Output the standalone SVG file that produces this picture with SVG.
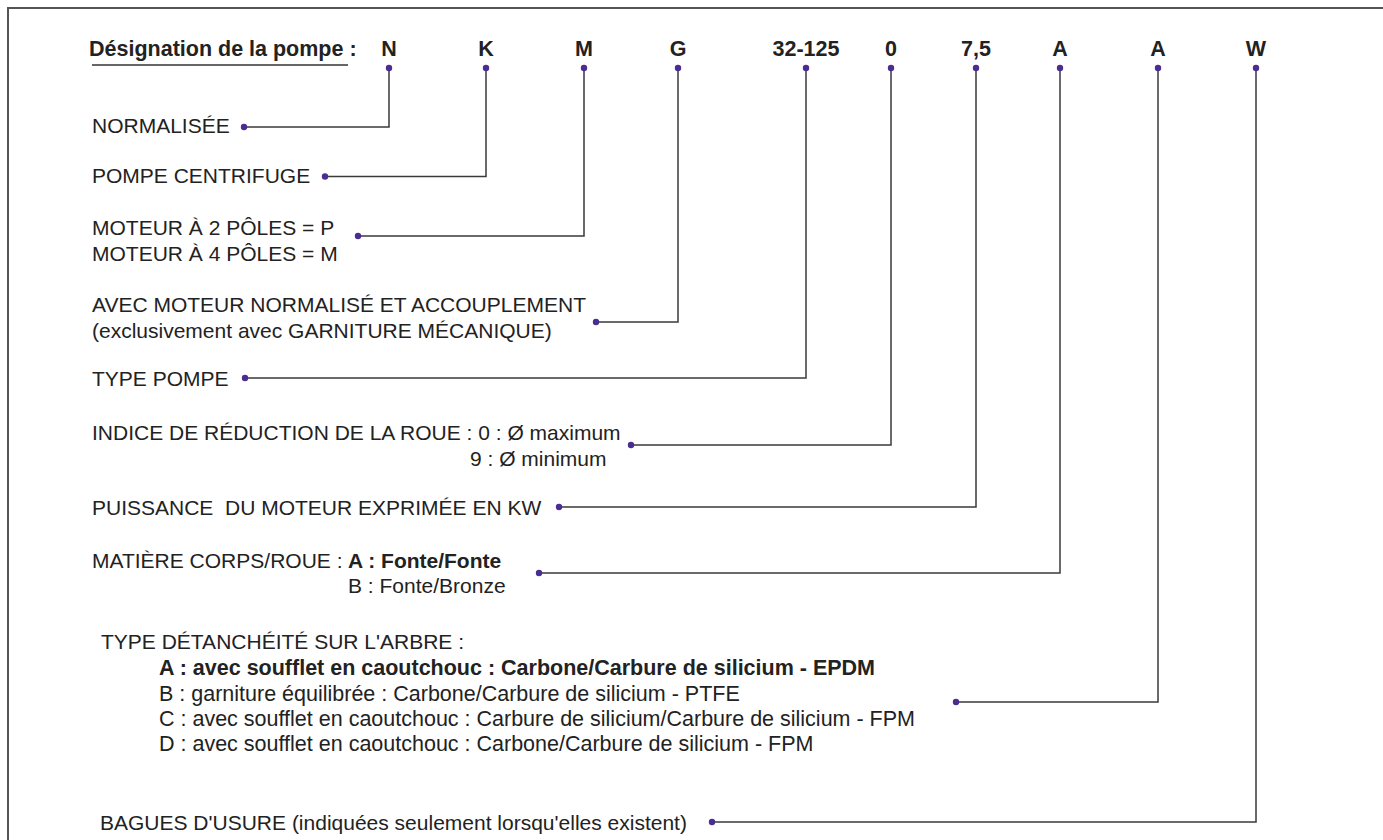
<svg xmlns="http://www.w3.org/2000/svg" width="1383" height="840" viewBox="0 0 1383 840">
<defs>
<style>
.t{font-family:"Liberation Sans",Arial,sans-serif;font-size:21px;fill:#222}
.e{font-size:21.5px}
.b{font-weight:bold}
.h{font-family:"Liberation Sans",Arial,sans-serif;font-size:21.5px;font-weight:bold;fill:#222;text-anchor:middle}
.hl{font-family:"Liberation Sans",Arial,sans-serif;font-size:21.5px;font-weight:bold;fill:#222}
.c{fill:none;stroke:#3a3a3a;stroke-width:1.5}
.d{fill:#4b2c91}
</style>
</defs>
<rect width="1383" height="840" fill="#fff"/>
<path d="M8,840 V8 H1383" fill="none" stroke="#555" stroke-width="2"/>
<g id="header">
<text class="hl" x="89" y="56">Désignation de la pompe :</text>
<line x1="92" y1="65" x2="348" y2="65" stroke="#333" stroke-width="1.5"/>
<text class="h" x="389" y="56">N</text>
<text class="h" x="486" y="56">K</text>
<text class="h" x="584" y="56">M</text>
<text class="h" x="678" y="56">G</text>
<text class="h" x="806" y="56">32-125</text>
<text class="h" x="891" y="56">0</text>
<text class="h" x="976" y="56">7,5</text>
<text class="h" x="1060" y="56">A</text>
<text class="h" x="1158" y="56">A</text>
<text class="h" x="1256" y="56">W</text>
</g>
<g id="connectors">
<path class="c" d="M389,68 V127 H244"/>
<path class="c" d="M486,68 V176.5 H325"/>
<path class="c" d="M584,68 V236 H358"/>
<path class="c" d="M678,68 V322 H596"/>
<path class="c" d="M806,68 V378 H245"/>
<path class="c" d="M891,68 V445 H631"/>
<path class="c" d="M976,68 V507 H559"/>
<path class="c" d="M1060,68 V573 H539"/>
<path class="c" d="M1158,68 V702 H956"/>
<path class="c" d="M1256,68 V822 H712"/>
<g class="d">
<circle cx="389" cy="68" r="3.2"/><circle cx="486" cy="68" r="3.2"/><circle cx="584" cy="68" r="3.2"/><circle cx="678" cy="68" r="3.2"/><circle cx="806" cy="68" r="3.2"/><circle cx="891" cy="68" r="3.2"/><circle cx="976" cy="68" r="3.2"/><circle cx="1060" cy="68" r="3.2"/><circle cx="1158" cy="68" r="3.2"/><circle cx="1256" cy="68" r="3.2"/>
<circle cx="244" cy="127" r="3.2"/><circle cx="325" cy="176.5" r="3.2"/><circle cx="358" cy="236" r="3.2"/><circle cx="596" cy="322" r="3.2"/><circle cx="245" cy="378" r="3.2"/><circle cx="631" cy="445" r="3.2"/><circle cx="559" cy="507" r="3.2"/><circle cx="539" cy="573" r="3.2"/><circle cx="956" cy="702" r="3.2"/><circle cx="712" cy="822" r="3.2"/>
</g>
</g>
<g id="n-normalisee"><text class="t" x="92" y="133">NORMALISÉE</text></g>
<g id="k-centrifuge"><text class="t" x="92" y="183">POMPE CENTRIFUGE</text></g>
<g id="m-moteur"><text class="t" x="92" y="235">MOTEUR À 2 PÔLES = P</text><text class="t" x="92" y="261">MOTEUR À 4 PÔLES = M</text></g>
<g id="g-accouplement"><text class="t" x="92" y="312">AVEC MOTEUR NORMALISÉ ET ACCOUPLEMENT</text><text class="t" x="92" y="338">(exclusivement avec GARNITURE MÉCANIQUE)</text></g>
<g id="type-pompe"><text class="t" x="92" y="386">TYPE POMPE</text></g>
<g id="indice"><text class="t" x="92" y="440">INDICE DE RÉDUCTION DE LA ROUE : 0 : Ø maximum</text><text class="t" x="470" y="466">9 : Ø minimum</text></g>
<g id="puissance"><text class="t" x="92" y="515" xml:space="preserve">PUISSANCE  DU MOTEUR EXPRIMÉE EN KW</text></g>
<g id="matiere"><text class="t" x="92" y="568">MATIÈRE CORPS/ROUE : <tspan class="b" x="348">A : Fonte/Fonte</tspan></text><text class="t" x="348" y="593">B : Fonte/Bronze</text></g>
<g id="etancheite">
<text class="t" x="101" y="649">TYPE DÉTANCHÉITÉ SUR L'ARBRE :</text>
<text class="t e b" x="159" y="675">A : avec soufflet en caoutchouc : Carbone/Carbure de silicium - EPDM</text>
<text class="t e" x="159" y="701">B : garniture équilibrée : Carbone/Carbure de silicium - PTFE</text>
<text class="t e" x="159" y="726">C : avec soufflet en caoutchouc : Carbure de silicium/Carbure de silicium - FPM</text>
<text class="t e" x="159" y="751">D : avec soufflet en caoutchouc : Carbone/Carbure de silicium - FPM</text>
</g>
<g id="w-bagues"><text class="t" x="100" y="830">BAGUES D'USURE (indiquées seulement lorsqu'elles existent)</text></g>
</svg>
